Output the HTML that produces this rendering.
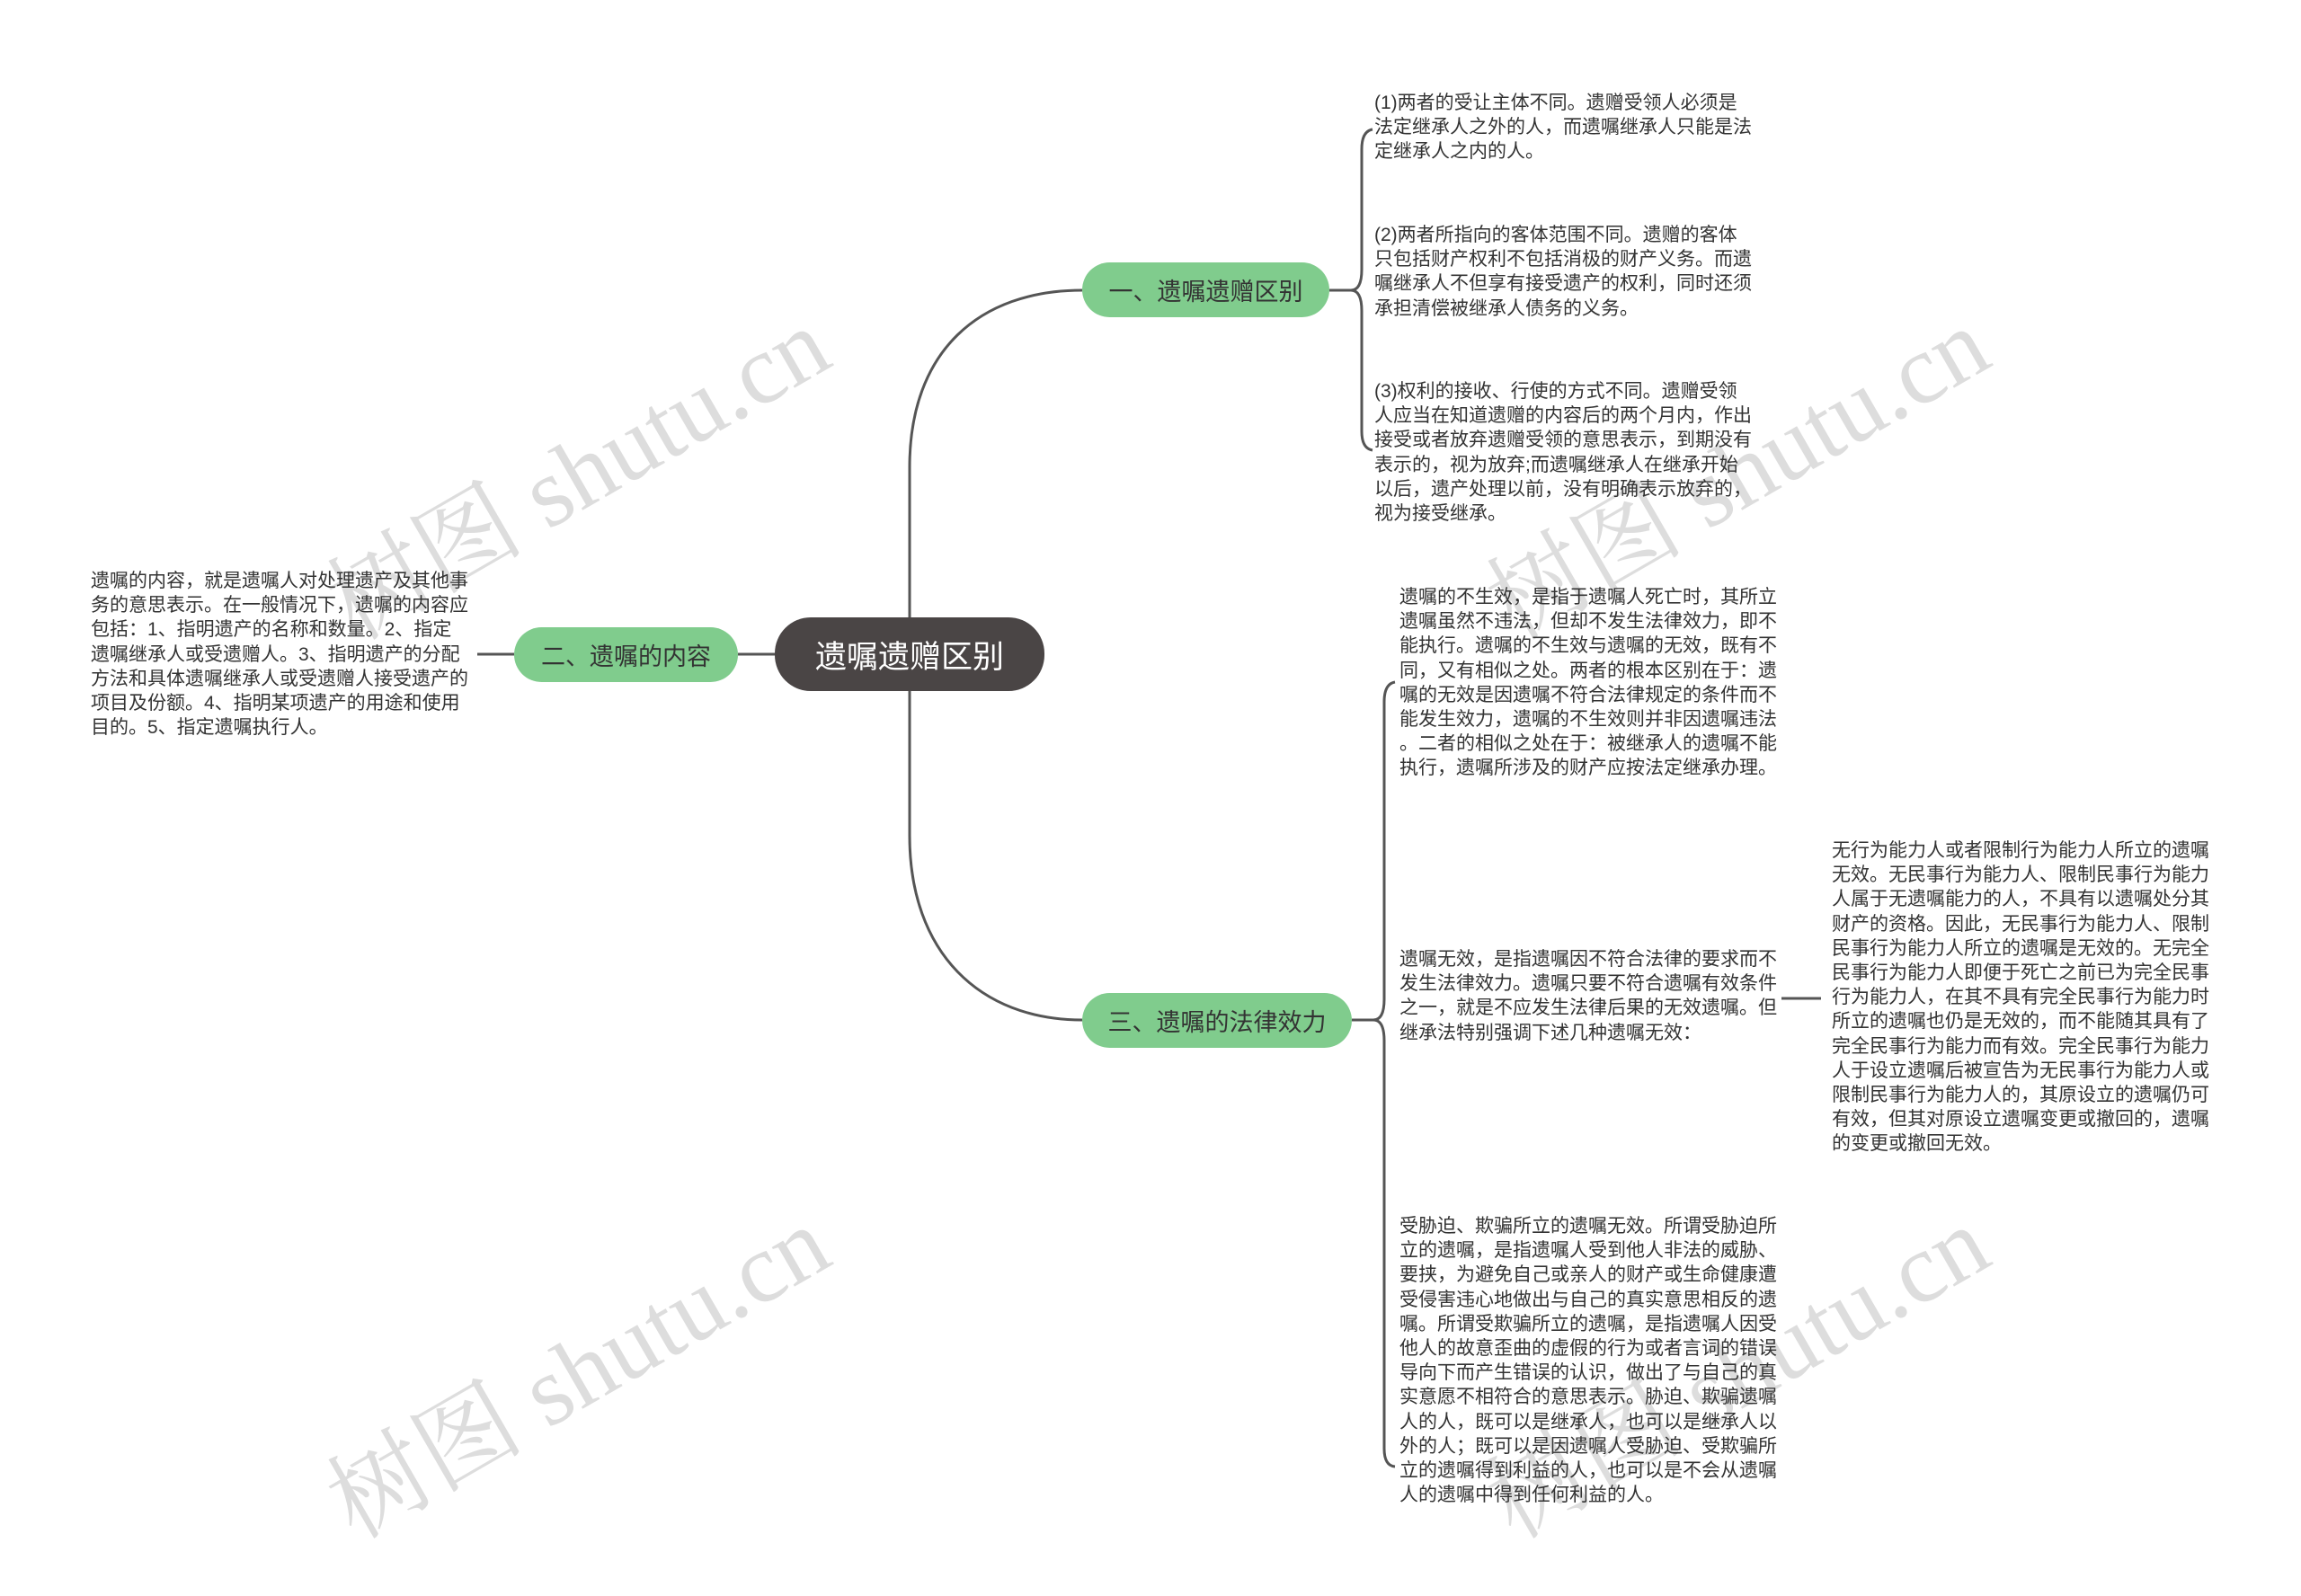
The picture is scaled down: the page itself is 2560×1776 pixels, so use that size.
<!DOCTYPE html>
<html><head><meta charset="utf-8"><style>
body{margin:0;width:2560px;height:1776px;background:#fff;position:relative;overflow:hidden;font-family:"Liberation Sans","Noto Sans CJK SC",sans-serif;}
.t{position:absolute;font-size:21px;line-height:27.2px;color:#333;white-space:nowrap;}
.n{position:absolute;display:flex;align-items:center;justify-content:center;border-radius:32px;background:#80cc8d;color:#333;font-size:27px;}
.wm{position:absolute;font-family:"Liberation Serif","Noto Serif CJK SC",serif;font-size:110px;color:rgba(180,180,180,0.45);transform:rotate(-30deg);white-space:nowrap;}
</style></head><body>
<div class="wm" style="left:330px;top:440px;">树图 shutu.cn</div>
<div class="wm" style="left:1620px;top:440px;">树图 shutu.cn</div>
<div class="wm" style="left:330px;top:1440px;">树图 shutu.cn</div>
<div class="wm" style="left:1620px;top:1440px;">树图 shutu.cn</div>
<svg width="2560" height="1776" style="position:absolute;left:0;top:0" fill="none" stroke="#555" stroke-width="3">
<path d="M1012,687 L1012,520 C1012,390 1090,323 1204,323"/>
<path d="M1012,769 L1012,930 C1012,1060 1090,1135 1204,1135"/>
<path d="M821,728 L862,728"/>
<path d="M531,728 L572,728"/>
<path d="M1479,323 L1503,323"/>
<path d="M1527,144 Q1515,146 1515,166 L1515,300 Q1515,323 1503,323 Q1515,323 1515,346 L1515,480 Q1515,499 1527,501"/>
<path d="M1504,1135 L1528,1135"/>
<path d="M1552,759 Q1540,761 1540,781 L1540,1112 Q1540,1135 1528,1135 Q1540,1135 1540,1158 L1540,1612 Q1540,1631 1552,1632"/>
<path d="M1982,1111 L2026,1111"/>
</svg>
<div class="n" style="left:862px;top:687px;width:300px;height:82px;border-radius:40px;background:#4a4545;color:#fff;font-size:35px;">遗嘱遗赠区别</div>
<div class="n" style="left:1204px;top:292px;width:275px;height:61px;">一、遗嘱遗赠区别</div>
<div class="n" style="left:572px;top:698px;width:249px;height:61px;">二、遗嘱的内容</div>
<div class="n" style="left:1204px;top:1105px;width:300px;height:61px;">三、遗嘱的法律效力</div>
<div class="t" style="left:101px;top:633px;">遗嘱的内容，就是遗嘱人对处理遗产及其他事<br>务的意思表示。在一般情况下，遗嘱的内容应<br>包括：1、指明遗产的名称和数量。2、指定<br>遗嘱继承人或受遗赠人。3、指明遗产的分配<br>方法和具体遗嘱继承人或受遗赠人接受遗产的<br>项目及份额。4、指明某项遗产的用途和使用<br>目的。5、指定遗嘱执行人。</div>
<div class="t" style="left:1529px;top:101px;">(1)两者的受让主体不同。遗赠受领人必须是<br>法定继承人之外的人，而遗嘱继承人只能是法<br>定继承人之内的人。</div>
<div class="t" style="left:1529px;top:248px;">(2)两者所指向的客体范围不同。遗赠的客体<br>只包括财产权利不包括消极的财产义务。而遗<br>嘱继承人不但享有接受遗产的权利，同时还须<br>承担清偿被继承人债务的义务。</div>
<div class="t" style="left:1529px;top:422px;">(3)权利的接收、行使的方式不同。遗赠受领<br>人应当在知道遗赠的内容后的两个月内，作出<br>接受或者放弃遗赠受领的意思表示，到期没有<br>表示的，视为放弃;而遗嘱继承人在继承开始<br>以后，遗产处理以前，没有明确表示放弃的，<br>视为接受继承。</div>
<div class="t" style="left:1557px;top:651px;">遗嘱的不生效，是指于遗嘱人死亡时，其所立<br>遗嘱虽然不违法，但却不发生法律效力，即不<br>能执行。遗嘱的不生效与遗嘱的无效，既有不<br>同，又有相似之处。两者的根本区别在于：遗<br>嘱的无效是因遗嘱不符合法律规定的条件而不<br>能发生效力，遗嘱的不生效则并非因遗嘱违法<br>。二者的相似之处在于：被继承人的遗嘱不能<br>执行，遗嘱所涉及的财产应按法定继承办理。</div>
<div class="t" style="left:1557px;top:1054px;">遗嘱无效，是指遗嘱因不符合法律的要求而不<br>发生法律效力。遗嘱只要不符合遗嘱有效条件<br>之一，就是不应发生法律后果的无效遗嘱。但<br>继承法特别强调下述几种遗嘱无效：</div>
<div class="t" style="left:2038px;top:933px;">无行为能力人或者限制行为能力人所立的遗嘱<br>无效。无民事行为能力人、限制民事行为能力<br>人属于无遗嘱能力的人，不具有以遗嘱处分其<br>财产的资格。因此，无民事行为能力人、限制<br>民事行为能力人所立的遗嘱是无效的。无完全<br>民事行为能力人即便于死亡之前已为完全民事<br>行为能力人，在其不具有完全民事行为能力时<br>所立的遗嘱也仍是无效的，而不能随其具有了<br>完全民事行为能力而有效。完全民事行为能力<br>人于设立遗嘱后被宣告为无民事行为能力人或<br>限制民事行为能力人的，其原设立的遗嘱仍可<br>有效，但其对原设立遗嘱变更或撤回的，遗嘱<br>的变更或撤回无效。</div>
<div class="t" style="left:1557px;top:1351px;">受胁迫、欺骗所立的遗嘱无效。所谓受胁迫所<br>立的遗嘱，是指遗嘱人受到他人非法的威胁、<br>要挟，为避免自己或亲人的财产或生命健康遭<br>受侵害违心地做出与自己的真实意思相反的遗<br>嘱。所谓受欺骗所立的遗嘱，是指遗嘱人因受<br>他人的故意歪曲的虚假的行为或者言词的错误<br>导向下而产生错误的认识，做出了与自己的真<br>实意愿不相符合的意思表示。胁迫、欺骗遗嘱<br>人的人，既可以是继承人，也可以是继承人以<br>外的人；既可以是因遗嘱人受胁迫、受欺骗所<br>立的遗嘱得到利益的人，也可以是不会从遗嘱<br>人的遗嘱中得到任何利益的人。</div>
</body></html>
